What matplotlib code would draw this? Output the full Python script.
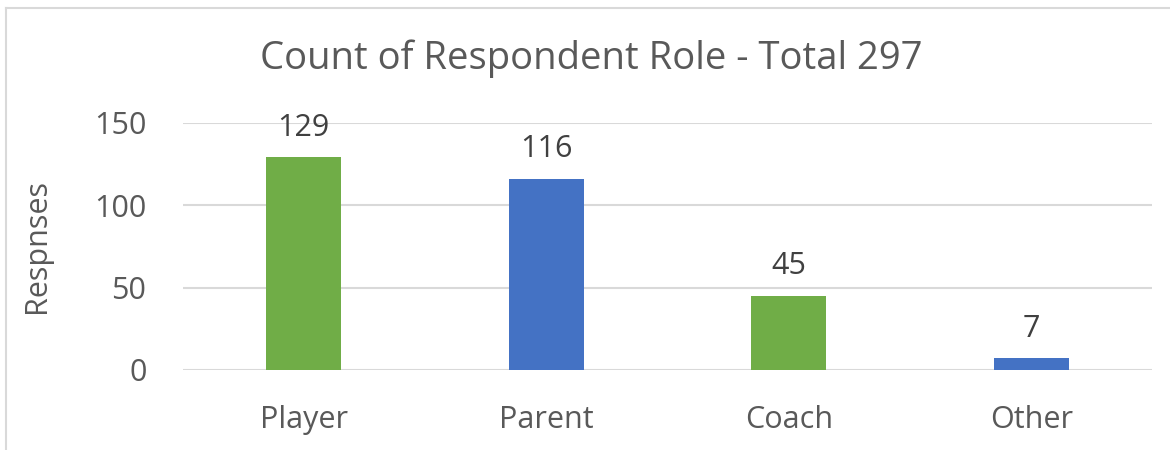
import matplotlib.pyplot as plt

# Respondent role counts
roles = ['Player', 'Parent', 'Coach', 'Other']
counts = [129, 116, 45, 7]
bar_colors = ['#70AD47', '#4472C4', '#70AD47', '#4472C4']
yticks = [0, 50, 100, 150]

plt.rcParams['font.family'] = ['Open Sans', 'DejaVu Sans']

fig = plt.figure(figsize=(11.7, 4.5), dpi=100)
ax = fig.add_axes([0.156, 0.178, 0.829, 0.549])

x = range(len(roles))
bars = ax.bar(x, counts, width=0.31, color=bar_colors, zorder=3)
for rect, val in zip(bars, counts):
    ax.text(rect.get_x() + rect.get_width() / 2, val + 9, str(val),
            ha='center', va='bottom', fontsize=22, color='#404040')

ax.set_xlim(-0.5, len(roles) - 0.5)
ax.set_ylim(0, 150)
ax.set_yticks(yticks)
ax.set_xticks(list(x))
ax.set_xticklabels(roles)
ax.tick_params(axis='both', length=0, labelsize=22, colors='#595959')
ax.tick_params(axis='x', pad=25)
ax.tick_params(axis='y', pad=26)
ax.grid(axis='y', color='#D9D9D9', linewidth=1.5, zorder=0)
for s in ax.spines.values():
    s.set_visible(False)

ax.set_ylabel('Respnses', fontsize=22, color='#595959', labelpad=30)
fig.text(0.505, 0.87, 'Count of Respondent Role - Total 297', ha='center', va='center',
         fontsize=27.5, color='#595959')

# chart border (partially cropped in the original)
fig.add_artist(plt.Line2D([0.005, 1.0], [0.982, 0.982], color='#D9D9D9', linewidth=1.5))
fig.add_artist(plt.Line2D([0.005, 0.005], [0.0, 0.982], color='#D9D9D9', linewidth=1.5))

fig.savefig('out.png', dpi=100)
